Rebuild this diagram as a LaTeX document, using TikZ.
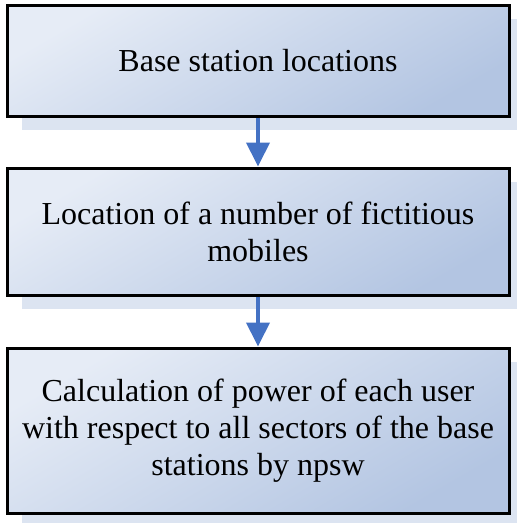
\documentclass[tikz,border=0pt]{standalone}
\usepackage{fontspec}
\setmainfont{Liberation Serif}
\newfontfamily\boxfont{Liberation Serif}
\usetikzlibrary{arrows.meta,shadows}
\definecolor{boxlight}{HTML}{E6ECF6}
\definecolor{boxdark}{HTML}{B3C5E2}
\definecolor{shadowcol}{HTML}{DCE4F1}
\definecolor{arrowcol}{HTML}{4472C4}
\tikzset{
  stepbox/.style={draw=black, line width=3pt, rectangle,
    top color=boxlight, bottom color=boxdark, shading angle=30,
    minimum width=502pt, align=center, inner sep=0pt,
    font=\boxfont\fontsize{32}{37}\selectfont,
    general shadow={shadow xshift=15pt, shadow yshift=-14pt, fill=shadowcol}},
  flowarrow/.style={draw=arrowcol, line width=4pt,
    -{Triangle[width=23pt,length=24pt]}}
}
\begin{document}
\begin{tikzpicture}[x=1pt,y=1pt]
\useasboundingbox (0,0) rectangle (517,-523);
\node[stepbox, minimum height=111pt] (b1) at (258,-60.5) {Base station locations};
\node[stepbox, minimum height=127pt] (b2) at (258,-231.5) {Location of a number of fictitious\\mobiles};
\node[stepbox, minimum height=165pt] (b3) at (258,-430.5) {Calculation of power of each user\\with respect to all sectors of the base\\stations by npsw};
\draw[flowarrow] (b1.south) -- (b2.north);
\draw[flowarrow] (b2.south) -- (b3.north);
\end{tikzpicture}
\end{document}
